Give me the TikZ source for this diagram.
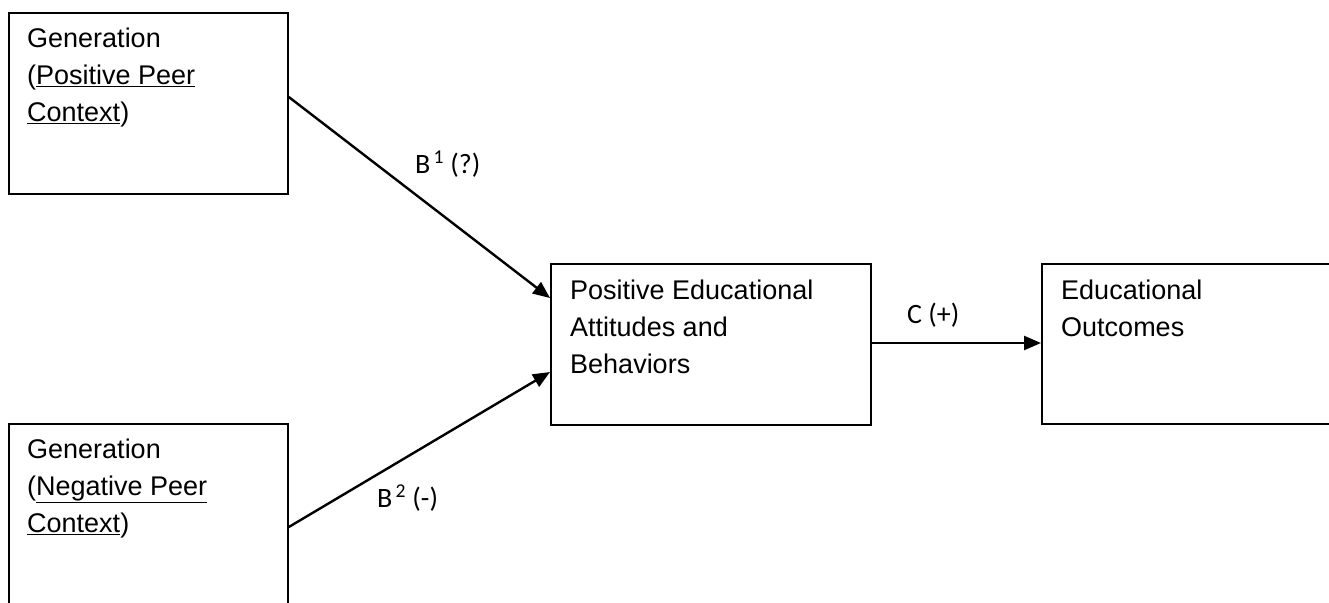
\documentclass[tikz,border=0pt]{standalone}
\usepackage{fontspec}
\setmainfont{Liberation Sans}
\newfontfamily\labfont{Carlito}
\usetikzlibrary{arrows.meta,calc}
\begin{document}
\begin{tikzpicture}[x=1pt,y=-1pt,
  box/.style={draw, line width=1.8pt, rectangle, inner sep=0pt, anchor=north west},
  txt/.style={inner sep=0pt, anchor=north west, align=left, font=\fontsize{27}{36.7}\selectfont},
  lab/.style={inner sep=0pt, anchor=base west, font=\labfont\fontsize{28}{34}\selectfont},
  arr/.style={line width=2.4pt, -{Triangle[length=17pt,width=14pt]}}]
\useasboundingbox (0,0) rectangle (1329,602);
\clip (0,0) rectangle (1329,602);
\node[box, minimum width=279pt, minimum height=181pt] (pos) at (8,12) {};
\node[box, minimum width=279pt, minimum height=250pt] (neg) at (8,423) {};
\node[box, minimum width=320pt, minimum height=161pt] (mid) at (550,263) {};
\node[box, minimum width=350pt, minimum height=160pt] (out) at (1041,263) {};
\node[txt] (post) at ($(pos.north west)+(19,16)$) {Generation\\(\underline{Positive Peer}\\\underline{Context})};
\node[txt] (negt) at ($(neg.north west)+(19,16)$) {Generation\\(\underline{Negative Peer}\\\underline{Context})};
\node[txt] (midt) at ($(mid.north west)+(20,17)$) {Positive Educational\\Attitudes and\\Behaviors};
\node[txt] (outt) at ($(out.north west)+(20,17)$) {Educational\\Outcomes};
\coordinate (a1s) at ($(pos.north east)+(0,85)$);
\coordinate (a1e) at ($(mid.north west)+(0,35)$);
\coordinate (a2s) at ($(neg.north east)+(0,104)$);
\coordinate (a2e) at ($(mid.north west)+(0,109)$);
\coordinate (a3s) at ($(mid.north east)+(0,80)$);
\coordinate (a3e) at ($(out.north west)+(0,80)$);
\draw[arr] (a1s) -- (a1e);
\draw[arr] (a2s) -- (a2e);
\draw[arr] (a3s) -- (a3e);
\node[lab] (l1) at (415,173) {B\textsuperscript{\,1} (?)};
\node[lab] (l2) at (377,507) {B\textsuperscript{\,2} (-)};
\node[lab] (l3) at (907,323) {C (+)};
\end{tikzpicture}
\end{document}
